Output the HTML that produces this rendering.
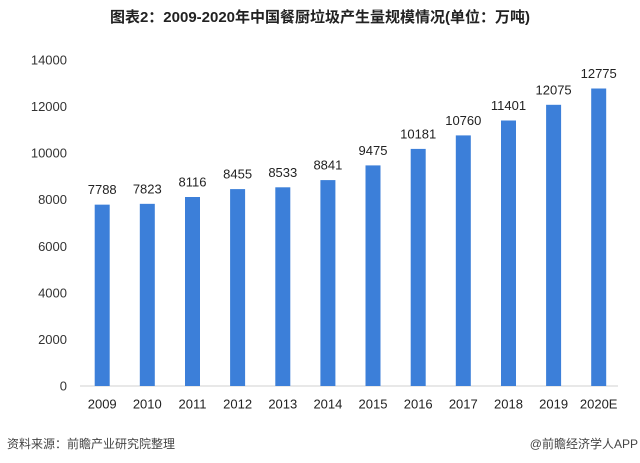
<!DOCTYPE html>
<html>
<head>
<meta charset="utf-8">
<style>
html,body{margin:0;padding:0;background:#fff;}
svg{display:block;}
</style>
</head>
<body>
<svg width="640" height="463" viewBox="0 0 640 463" xmlns="http://www.w3.org/2000/svg" font-family="'Liberation Sans','Noto Sans CJK SC',sans-serif">
<rect width="640" height="463" fill="#fff"/>
<text x="320" y="22" text-anchor="middle" font-size="15" font-weight="bold" fill="#222">图表2：2009-2020年中国餐厨垃圾产生量规模情况(单位：万吨)</text>

<g font-size="13" fill="#333" text-anchor="end">
<text x="67" y="390.5">0</text>
<text x="67" y="343.9">2000</text>
<text x="67" y="297.4">4000</text>
<text x="67" y="250.8">6000</text>
<text x="67" y="204.2">8000</text>
<text x="67" y="157.6">10000</text>
<text x="67" y="111.1">12000</text>
<text x="67" y="64.5">14000</text>
</g>

<line x1="80" y1="386" x2="618" y2="386" stroke="#d9d9d9" stroke-width="1.2"/>

<g fill="#3c7fd9">
<rect x="94.7" y="204.65" width="15" height="181.35"/>
<rect x="139.8" y="203.84" width="15" height="182.16"/>
<rect x="185.0" y="197.0" width="15" height="189.0"/>
<rect x="230.1" y="189.1" width="15" height="196.9"/>
<rect x="275.3" y="187.3" width="15" height="198.7"/>
<rect x="320.4" y="180.1" width="15" height="205.9"/>
<rect x="365.5" y="165.4" width="15" height="220.6"/>
<rect x="410.7" y="148.9" width="15" height="237.1"/>
<rect x="455.8" y="135.4" width="15" height="250.6"/>
<rect x="501.0" y="120.5" width="15" height="265.5"/>
<rect x="546.1" y="104.8" width="15" height="281.2"/>
<rect x="591.2" y="88.5" width="15" height="297.5"/>
</g>

<g font-size="13" fill="#222" text-anchor="middle">
<text x="102.2" y="194.2">7788</text>
<text x="147.3" y="193.3">7823</text>
<text x="192.5" y="186.5">8116</text>
<text x="237.6" y="178.6">8455</text>
<text x="282.8" y="176.8">8533</text>
<text x="327.9" y="169.6">8841</text>
<text x="373.0" y="154.9">9475</text>
<text x="418.2" y="138.4">10181</text>
<text x="463.3" y="124.9">10760</text>
<text x="508.5" y="110.0">11401</text>
<text x="553.6" y="94.3">12075</text>
<text x="598.7" y="78.0">12775</text>
</g>

<g font-size="13" fill="#222" text-anchor="middle">
<text x="102.2" y="408.5">2009</text>
<text x="147.3" y="408.5">2010</text>
<text x="192.5" y="408.5">2011</text>
<text x="237.6" y="408.5">2012</text>
<text x="282.8" y="408.5">2013</text>
<text x="327.9" y="408.5">2014</text>
<text x="373.0" y="408.5">2015</text>
<text x="418.2" y="408.5">2016</text>
<text x="463.3" y="408.5">2017</text>
<text x="508.5" y="408.5">2018</text>
<text x="553.6" y="408.5">2019</text>
<text x="598.7" y="408.5">2020E</text>
</g>

<text x="7" y="448" font-size="12" fill="#444">资料来源：前瞻产业研究院整理</text>
<text x="638" y="448" font-size="12" fill="#444" text-anchor="end">@前瞻经济学人APP</text>
</svg>
</body>
</html>
